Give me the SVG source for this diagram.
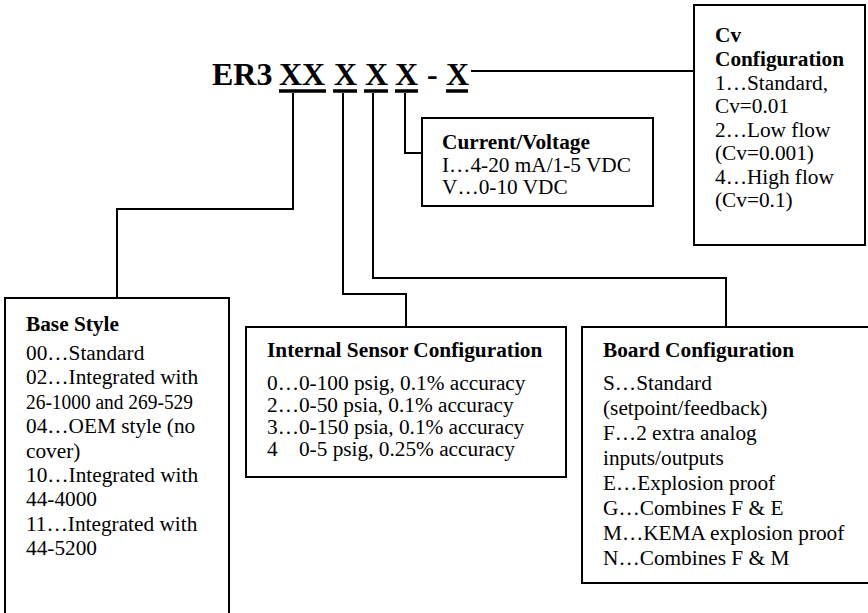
<svg xmlns="http://www.w3.org/2000/svg" width="868" height="613" viewBox="0 0 868 613">
<style>
text{font-family:"Liberation Serif","Times New Roman",serif;fill:#000}
.t{font-size:32px;font-weight:bold}
.h{font-size:21.3px;font-weight:bold}
.b{font-size:21.3px}
.box{fill:#fff;stroke:#000;stroke-width:2}
.c{fill:none;stroke:#000;stroke-width:2}
.u{stroke:#000;stroke-width:3.5}
</style>
<rect width="868" height="613" fill="#fff"/>
<g id="code">
<text class="t" x="212" y="85">ER3</text>
<text class="t" x="279" y="85">XX</text>
<text class="t" x="334" y="85">X</text>
<text class="t" x="365" y="85">X</text>
<text class="t" x="395" y="85">X</text>
<text class="t" x="427" y="85">-</text>
<text class="t" x="446" y="85">X</text>
<g class="u">
<line x1="279" y1="91" x2="326" y2="91"/>
<line x1="333" y1="91" x2="357" y2="91"/>
<line x1="364" y1="91" x2="388" y2="91"/>
<line x1="395" y1="91" x2="418" y2="91"/>
<line x1="446" y1="91" x2="468" y2="91"/>
</g>
</g>
<g id="connectors">
<path class="c" d="M293 93V209H117V298"/>
<path class="c" d="M343 93V294H406V327"/>
<path class="c" d="M373 93V278H726V327"/>
<path class="c" d="M405 93V153H422"/>
<path class="c" d="M471 71H694"/>
</g>
<g id="cv">
<rect class="box" x="694" y="5" width="171" height="240"/>
<text class="h" x="715" y="42">Cv</text>
<text class="h" x="715" y="66">Configuration</text>
<text class="b" x="715" y="90">1…Standard,</text>
<text class="b" x="715" y="113">Cv=0.01</text>
<text class="b" x="715" y="137">2…Low flow</text>
<text class="b" x="715" y="160">(Cv=0.001)</text>
<text class="b" x="715" y="184">4…High flow</text>
<text class="b" x="715" y="207">(Cv=0.1)</text>
</g>
<g id="current">
<rect class="box" x="422" y="118" width="231" height="88"/>
<text class="h" x="442" y="149">Current/Voltage</text>
<text class="b" x="442" y="172">I…4-20 mA/1-5 VDC</text>
<text class="b" x="442" y="194">V…0-10 VDC</text>
</g>
<g id="base">
<rect class="box" x="5" y="298" width="224" height="330"/>
<text class="h" x="26" y="331">Base Style</text>
<text class="b" x="26" y="360">00…Standard</text>
<text class="b" x="26" y="384">02…Integrated with</text>
<text class="b" x="26" y="409" textLength="167" lengthAdjust="spacingAndGlyphs">26-1000 and 269-529</text>
<text class="b" x="26" y="433">04…OEM style (no</text>
<text class="b" x="26" y="458">cover)</text>
<text class="b" x="26" y="482">10…Integrated with</text>
<text class="b" x="26" y="506">44-4000</text>
<text class="b" x="26" y="531">11…Integrated with</text>
<text class="b" x="26" y="555">44-5200</text>
</g>
<g id="sensor">
<rect class="box" x="246" y="327" width="320" height="150"/>
<text class="h" x="267" y="357">Internal Sensor Configuration</text>
<text class="b" x="267" y="390">0…0-100 psig, 0.1% accuracy</text>
<text class="b" x="267" y="412">2…0-50 psia, 0.1% accuracy</text>
<text class="b" x="267" y="434">3…0-150 psia, 0.1% accuracy</text>
<text class="b" x="267" y="456" xml:space="preserve">4    0-5 psig, 0.25% accuracy</text>
</g>
<g id="board">
<rect class="box" x="582" y="327" width="300" height="256"/>
<text class="h" x="603" y="357">Board Configuration</text>
<text class="b" x="603" y="390">S…Standard</text>
<text class="b" x="603" y="415">(setpoint/feedback)</text>
<text class="b" x="603" y="440">F…2 extra analog</text>
<text class="b" x="603" y="465">inputs/outputs</text>
<text class="b" x="603" y="490">E…Explosion proof</text>
<text class="b" x="603" y="515">G…Combines F &amp; E</text>
<text class="b" x="603" y="540">M…KEMA explosion proof</text>
<text class="b" x="603" y="565">N…Combines F &amp; M</text>
</g>
</svg>
